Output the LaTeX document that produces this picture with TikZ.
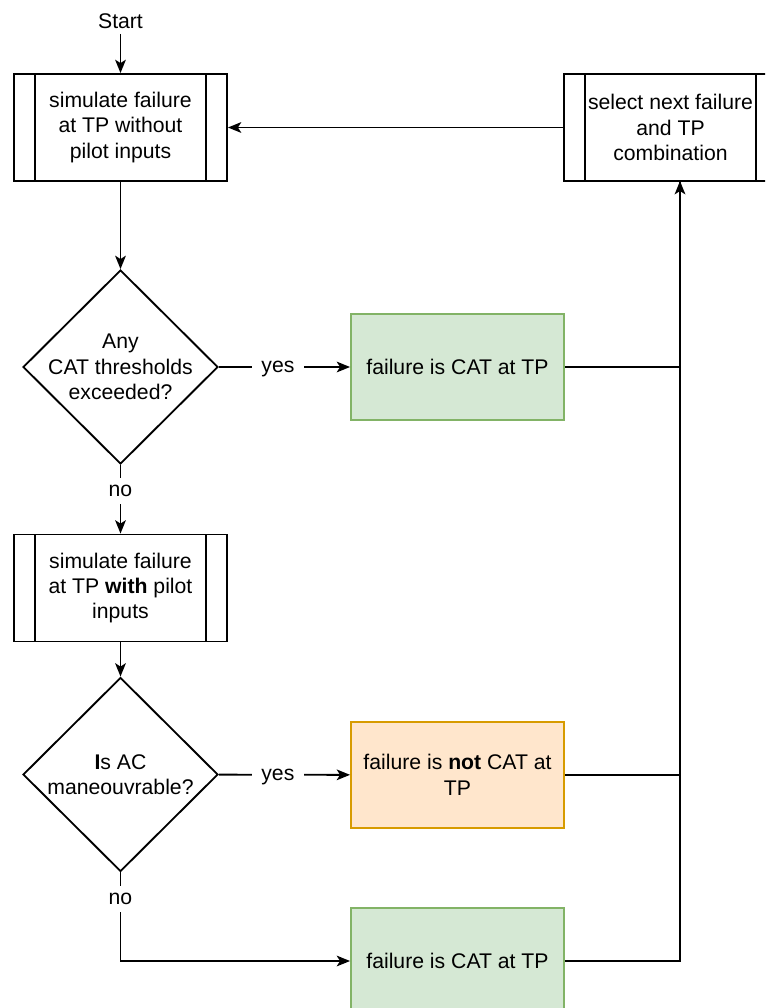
\documentclass[tikz,border=0pt]{standalone}
\usepackage{fontspec}
\setmainfont{Liberation Sans}
\usetikzlibrary{arrows.meta,shapes.geometric}
\definecolor{figGf}{RGB}{213,232,212}
\definecolor{figGd}{RGB}{130,179,102}
\definecolor{figOf}{RGB}{255,230,204}
\definecolor{figOd}{RGB}{215,155,0}

\begin{document}
\begin{tikzpicture}[x=0.75pt,y=-0.75pt,line width=1.4pt,>={Stealth[length=10pt,width=8pt,inset=2.5pt]},
 font=\fontsize{15.9}{19.1}\selectfont,
 proc/.style={draw,rectangle,minimum width=159.75pt,minimum height=80.25pt,align=center,inner sep=0pt,
  path picture={\draw[line width=1.4pt] ([xshift=15.75pt]path picture bounding box.north west)--([xshift=15.75pt]path picture bounding box.south west)
   ([xshift=-15.75pt]path picture bounding box.north east)--([xshift=-15.75pt]path picture bounding box.south east);}},
 res/.style={draw,rectangle,minimum width=159.75pt,minimum height=79.5pt,align=center},
 dec/.style={draw,diamond,minimum width=146.25pt,minimum height=145.5pt,inner sep=0pt},
 lbl/.style={fill=white,text height=8.2pt,text depth=0pt,inner xsep=7pt,inner ysep=6pt}]
\useasboundingbox (0,0) rectangle (765,1008);
\clip (0,0) rectangle (765,1008);
\node (start) at (120.5,21) {Start};
\node[proc] (sim1) at (120.5,127.5) {simulate failure\\at TP without\\pilot inputs};
\node[proc] (sel) at (670.5,127.5) {select next failure\\and TP\\combination};
\node[dec,label={[align=center]center:Any\\CAT thresholds\\exceeded?}] (q1) at (120.5,367) {};
\node[res,fill=figGf,draw=figGd] (cat1) at (457.5,367) {failure is CAT at TP};
\node[proc] (sim2) at (120.5,588) {simulate failure\\at TP \textbf{with} pilot\\inputs};
\node[dec,label={[align=center]center:\textbf{I}s AC\\maneouvrable?}] (q2) at (120.5,774.5) {};
\node[res,fill=figOf,draw=figOd] (ncat) at (457.5,775) {failure is \textbf{not} CAT at\\TP};
\node[res,fill=figGf,draw=figGd] (cat2) at (457.5,961) {failure is CAT at TP};
\coordinate (bus) at (680,181);
\draw[->] (start)--(sim1);
\draw[->] (sel)--(sim1);
\draw[->] (sim1)--(q1);
\draw[->] (q1)--node[lbl,pos=0.45]{yes}(cat1);
\draw[->] (q1)--node[lbl,pos=0.38]{no}(sim2);
\draw[->] (sim2)--(q2);
\draw[->] (q2)--node[lbl,pos=0.45]{yes}(ncat);
\draw[->] (q2)|-node[lbl,pos=0.15]{no}(cat2);
\draw (cat1)-|(bus);
\draw (ncat)-|(bus);
\draw[->] (cat2)-|(bus);
\end{tikzpicture}
\end{document}
